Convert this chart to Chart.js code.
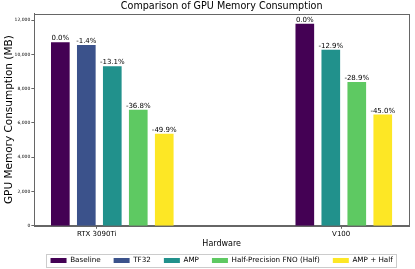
<!DOCTYPE html>
<html>
<head>
<meta charset="utf-8">
<script src="https://cdn.jsdelivr.net/npm/chart.js@4"></script>
<style>
  html, body { margin: 0; padding: 0; background: #fff; }
  #wrap { width: 415px; height: 269px; }
</style>
</head>
<body>
<div id="wrap"><canvas id="memChart" width="415" height="269"></canvas></div>
<script>
// data
const hardware = ['RTX 3090Ti', 'V100'];
const methods = ['Baseline', 'TF32', 'AMP', 'Half-Precision FNO (Half)', 'AMP + Half'];
const baselineMem = [10680, 11770];
const tf32Mem = [10530, null];      // no TF32 run on V100
const ampMem = [9280, 10250];
const halfMem = [6750, 8370];
const ampHalfMem = [5350, 6470];
const baselinePct = ['0.0%', '0.0%'];
const tf32Pct = ['-1.4%', null];
const ampPct = ['-13.1%', '-12.9%'];
const halfPct = ['-36.8%', '-28.9%'];
const ampHalfPct = ['-49.9%', '-45.0%'];
const yTicks = [0, 2000, 4000, 6000, 8000, 10000, 12000];

const colors = ['#440154', '#3b528b', '#21918c', '#5ec962', '#fde725'];
const seriesMem = [baselineMem, tf32Mem, ampMem, halfMem, ampHalfMem];
const seriesPct = [baselinePct, tf32Pct, ampPct, halfPct, ampHalfPct];

// bars of one hardware group sit side by side, skipping missing runs
const groupStart = [0, 9.41];
const tickOffset = 1.4;

const datasets = methods.map((name, s) => ({
    label: name,
    data: [],
    pct: [],
    backgroundColor: colors[s],
    borderWidth: 0,
    barThickness: 18,
    grouped: false,
}));
hardware.forEach((hw, g) => {
    let slot = 0;
    seriesMem.forEach((vals, s) => {
        if (vals[g] == null) return;
        datasets[s].data.push({ x: groupStart[g] + slot, y: vals[g] });
        datasets[s].pct.push(seriesPct[s][g]);
        slot++;
    });
});

const font = 'DejaVu Sans';

// percentage text above each bar
const barLabels = {
    id: 'barLabels',
    afterDatasetsDraw(chart) {
        const ctx = chart.ctx;
        ctx.save();
        ctx.font = '7px "' + font + '"';
        ctx.fillStyle = '#000';
        ctx.textAlign = 'center';
        ctx.textBaseline = 'bottom';
        chart.data.datasets.forEach((ds, i) => {
            chart.getDatasetMeta(i).data.forEach((bar, j) => {
                ctx.fillText(ds.pct[j], bar.x, bar.y - 0.5);
            });
        });
        ctx.restore();
    }
};

// matplotlib style frame round the plot and round the legend
const frames = {
    id: 'frames',
    afterDraw(chart) {
        const ctx = chart.ctx;
        const a = chart.chartArea;
        ctx.save();
        ctx.strokeStyle = '#666';
        ctx.lineWidth = 1;
        ctx.strokeRect(Math.round(a.left) + 0.5, Math.round(a.top) + 0.5,
            Math.round(a.right - a.left), Math.round(a.bottom - a.top));
        const boxes = chart.legend.legendHitBoxes;
        if (boxes && boxes.length) {
            const l = Math.min(...boxes.map(b => b.left)) - 5;
            const r = Math.max(...boxes.map(b => b.left + b.width)) + 3;
            const t = Math.min(...boxes.map(b => b.top)) - 3;
            const btm = Math.max(...boxes.map(b => b.top + b.height)) + 3;
            ctx.strokeStyle = '#ccc';
            ctx.strokeRect(Math.round(l) + 0.5, Math.round(t) + 0.5, Math.round(r - l), Math.round(btm - t));
        }
        ctx.restore();
    }
};

new Chart(document.getElementById('memChart'), {
    type: 'bar',
    data: { datasets: datasets },
    options: {
        responsive: false,
        animation: false,
        devicePixelRatio: 1,
        layout: { padding: { left: 0, right: 6, top: 0, bottom: -5 } },
        scales: {
            x: {
                type: 'linear',
                offset: false,
                min: -1.0,
                max: 13.42,
                grid: { display: true, drawOnChartArea: false, tickLength: 3, color: '#666', offset: false },
                border: { color: '#666' },
                afterBuildTicks(scale) {
                    scale.ticks = groupStart.map(v => ({ value: v + tickOffset }));
                },
                ticks: {
                    autoSkip: false,
                    maxRotation: 0,
                    padding: 1,
                    color: '#000',
                    font: { family: font, size: 7 },
                    callback: (v, i) => hardware[i]
                },
                title: {
                    display: true,
                    text: 'Hardware',
                    color: '#000',
                    font: { family: font, size: 8 },
                    padding: { top: 0, bottom: -5 }
                }
            },
            y: {
                min: 0,
                max: 12380,
                grid: { display: true, drawOnChartArea: false, tickLength: 3, color: '#666' },
                border: { color: '#666' },
                afterBuildTicks(scale) {
                    scale.ticks = yTicks.map(v => ({ value: v }));
                },
                ticks: {
                    padding: 1,
                    color: '#000',
                    font: { family: font, size: 4.5 },
                },
                title: {
                    display: true,
                    text: 'GPU Memory Consumption (MB)',
                    color: '#000',
                    font: { family: font, size: 10.5 },
                    padding: { top: 3, bottom: -2 }
                }
            }
        },
        plugins: {
            title: {
                display: true,
                text: 'Comparison of GPU Memory Consumption',
                color: '#000',
                fullSize: false,
                font: { family: font, size: 9.6, weight: 'normal' },
                padding: { top: 1, bottom: 1 }
            },
            legend: {
                position: 'bottom',
                fullSize: false,
                labels: {
                    color: '#000',
                    boxWidth: 16,
                    boxHeight: 5,
                    padding: 13,
                    font: { family: font, size: 7.2 }
                }
            },
            tooltip: { enabled: false }
        }
    },
    plugins: [barLabels, frames]
});
</script>
</body>
</html>
